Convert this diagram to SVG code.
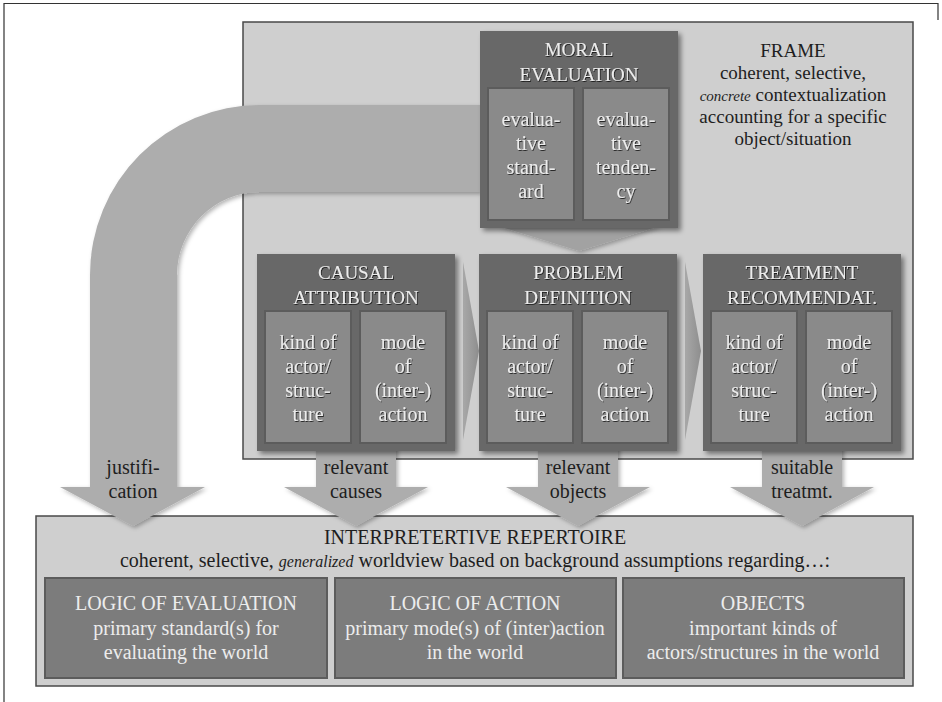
<svg xmlns="http://www.w3.org/2000/svg" width="942" height="702" viewBox="0 0 942 702" font-family="'Liberation Serif', 'Times New Roman', serif">
<defs>
<filter id="sh" x="-10%" y="-10%" width="125%" height="125%"><feDropShadow dx="3" dy="3" stdDeviation="2.5" flood-color="#000" flood-opacity="0.45"/></filter>
<filter id="sh2" x="-10%" y="-10%" width="125%" height="125%"><feDropShadow dx="2" dy="2" stdDeviation="2" flood-color="#000" flood-opacity="0.3"/></filter>
<filter id="ts" x="-5%" y="-20%" width="110%" height="150%"><feDropShadow dx="0.8" dy="1" stdDeviation="0.6" flood-color="#000" flood-opacity="0.7"/></filter>
<linearGradient id="chev" x1="0" y1="0" x2="1" y2="0"><stop offset="0" stop-color="#a8a8a8"/><stop offset="1" stop-color="#8e8e8e"/></linearGradient>
</defs>
<style>
text{font-family:"Liberation Serif","Times New Roman",serif;text-anchor:middle}
.panel{fill:#cfcfcf;stroke:#4a4a4a;stroke-width:1.5}
.box{fill:#676767}
.inner{fill:#8a8a8a;stroke:#5c5c5c;stroke-width:2}
.logic{fill:#7c7c7c;stroke:#5c5c5c;stroke-width:2}
.arrow{fill:#adadad}
.lt{fill:#ececec;font-size:20px}
.tt{fill:#ececec;font-size:19px}
.dk{fill:#1e1e1e;font-size:20px}
.fr{fill:#1e1e1e;font-size:19px}
</style>
<rect width="942" height="702" fill="#ffffff"/>
<path d="M4,702 V3.5 H938 V20" fill="none" stroke="#333" stroke-width="1.2"/>

<g id="frame-panel">
<rect class="panel" x="243" y="22" width="670" height="437"/>
<text class="fr" x="793" y="57">FRAME</text>
<text class="fr" x="793" y="79">coherent, selective,</text>
<text class="fr" x="793" y="101"><tspan font-style="italic" font-size="15">concrete</tspan> contextualization</text>
<text class="fr" x="793" y="123">accounting for a specific</text>
<text class="fr" x="793" y="145">object/situation</text>
</g>

<g id="repertoire-panel">
<rect class="panel" x="36" y="516" width="877" height="170"/>
<text class="dk" x="475" y="544">INTERPRETERTIVE REPERTOIRE</text>
<text class="dk" x="475" y="567">coherent, selective, <tspan font-style="italic" font-size="16">generalized</tspan> worldview based on background assumptions regarding…:</text>
</g>

<g id="connectors">
<path class="arrow" filter="url(#sh2)" d="M480,105 H260 A170,170 0 0 0 90,275 V487 H60 L133,526 L205,487 H177 V275 A83,83 0 0 1 260,192 H480 Z"/>
<polygon class="arrow" filter="url(#sh2)" points="316,440 396,440 396,487 428,487 356,526 284,487 316,487"/>
<polygon class="arrow" filter="url(#sh2)" points="538,440 618,440 618,487 650,487 578,526 506,487 538,487"/>
<polygon class="arrow" filter="url(#sh2)" points="762,440 842,440 842,487 874,487 802,526 730,487 762,487"/>
<polygon fill="#a2a2a2" filter="url(#sh2)" points="498,226 660,226 579,251"/>
<polygon fill="url(#chev)" points="463,262 463,440 479,351"/>
<polygon fill="url(#chev)" points="685,262 685,440 701,351"/>
<text class="dk" x="133" y="474">justifi-</text>
<text class="dk" x="133" y="498">cation</text>
<text class="dk" x="356" y="474">relevant</text>
<text class="dk" x="356" y="498">causes</text>
<text class="dk" x="578" y="474">relevant</text>
<text class="dk" x="578" y="498">objects</text>
<text class="dk" x="802" y="474">suitable</text>
<text class="dk" x="802" y="498">treatmt.</text>
</g>

<g id="moral-evaluation">
<rect class="box" filter="url(#sh)" x="480" y="31" width="198" height="197"/>
<rect class="inner" x="488" y="88" width="86" height="132"/>
<rect class="inner" x="583" y="88" width="86" height="132"/>
<g filter="url(#ts)">
<text class="tt" x="579" y="56">MORAL</text>
<text class="tt" x="579" y="81">EVALUATION</text>
<text class="lt" x="531" y="126">evalua-</text>
<text class="lt" x="531" y="150">tive</text>
<text class="lt" x="531" y="174">stand-</text>
<text class="lt" x="531" y="198">ard</text>
<text class="lt" x="626" y="126">evalua-</text>
<text class="lt" x="626" y="150">tive</text>
<text class="lt" x="626" y="174">tenden-</text>
<text class="lt" x="626" y="198">cy</text>
</g>
</g>

<g id="causal-attribution">
<rect class="box" filter="url(#sh)" x="257" y="254" width="198" height="197"/>
<rect class="inner" x="265" y="311" width="86" height="132"/>
<rect class="inner" x="360" y="311" width="86" height="132"/>
<g filter="url(#ts)">
<text class="tt" x="356" y="279">CAUSAL</text>
<text class="tt" x="356" y="304">ATTRIBUTION</text>
<text class="lt" x="308" y="349">kind of</text>
<text class="lt" x="308" y="373">actor/</text>
<text class="lt" x="308" y="397">struc-</text>
<text class="lt" x="308" y="421">ture</text>
<text class="lt" x="403" y="349">mode</text>
<text class="lt" x="403" y="373">of</text>
<text class="lt" x="403" y="397">(inter-)</text>
<text class="lt" x="403" y="421">action</text>
</g>
</g>

<g id="problem-definition">
<rect class="box" filter="url(#sh)" x="479" y="254" width="198" height="197"/>
<rect class="inner" x="487" y="311" width="86" height="132"/>
<rect class="inner" x="582" y="311" width="86" height="132"/>
<g filter="url(#ts)">
<text class="tt" x="578" y="279">PROBLEM</text>
<text class="tt" x="578" y="304">DEFINITION</text>
<text class="lt" x="530" y="349">kind of</text>
<text class="lt" x="530" y="373">actor/</text>
<text class="lt" x="530" y="397">struc-</text>
<text class="lt" x="530" y="421">ture</text>
<text class="lt" x="625" y="349">mode</text>
<text class="lt" x="625" y="373">of</text>
<text class="lt" x="625" y="397">(inter-)</text>
<text class="lt" x="625" y="421">action</text>
</g>
</g>

<g id="treatment-recommendation">
<rect class="box" filter="url(#sh)" x="703" y="254" width="198" height="197"/>
<rect class="inner" x="711" y="311" width="86" height="132"/>
<rect class="inner" x="806" y="311" width="86" height="132"/>
<g filter="url(#ts)">
<text class="tt" x="802" y="279">TREATMENT</text>
<text class="tt" x="802" y="304">RECOMMENDAT.</text>
<text class="lt" x="754" y="349">kind of</text>
<text class="lt" x="754" y="373">actor/</text>
<text class="lt" x="754" y="397">struc-</text>
<text class="lt" x="754" y="421">ture</text>
<text class="lt" x="849" y="349">mode</text>
<text class="lt" x="849" y="373">of</text>
<text class="lt" x="849" y="397">(inter-)</text>
<text class="lt" x="849" y="421">action</text>
</g>
</g>

<g id="logic-of-evaluation">
<rect class="logic" x="45" y="578" width="282" height="100"/>
<text class="lt" x="186" y="610">LOGIC OF EVALUATION</text>
<text class="lt" x="186" y="635">primary standard(s) for</text>
<text class="lt" x="186" y="659">evaluating the world</text>
</g>

<g id="logic-of-action">
<rect class="logic" x="335" y="578" width="281" height="100"/>
<text class="lt" x="475" y="610">LOGIC OF ACTION</text>
<text class="lt" x="475" y="635">primary mode(s) of (inter)action</text>
<text class="lt" x="475" y="659">in the world</text>
</g>

<g id="objects">
<rect class="logic" x="623" y="578" width="281" height="100"/>
<text class="lt" x="763" y="610">OBJECTS</text>
<text class="lt" x="763" y="635">important kinds of</text>
<text class="lt" x="763" y="659">actors/structures in the world</text>
</g>
</svg>
